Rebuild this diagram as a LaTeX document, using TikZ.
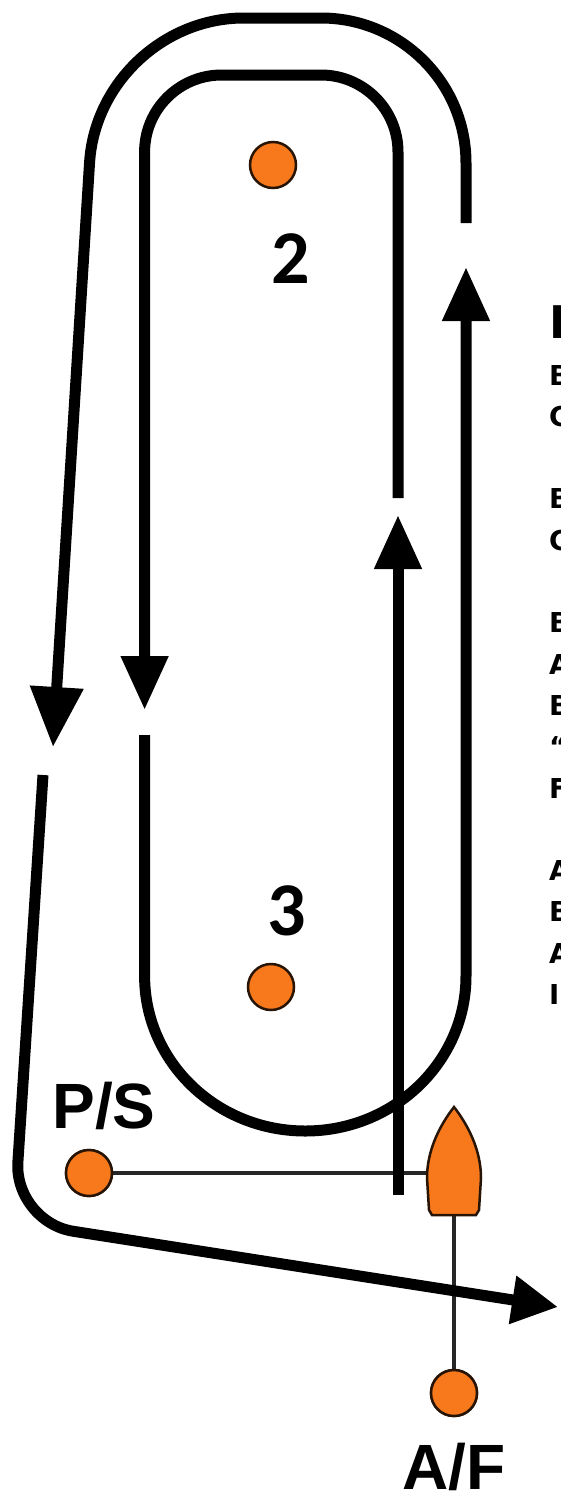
\documentclass[tikz,border=0pt]{standalone}
\usepackage{fontspec}
\setmainfont{Liberation Sans}
\newfontfamily\digitfont{Carlito}
\newfontfamily\sidefont{DejaVu Sans}
\usetikzlibrary{arrows.meta}
\definecolor{buoyorange}{RGB}{247,121,28}
\definecolor{buoyedge}{RGB}{40,20,5}
\begin{document}
\begin{tikzpicture}[x=1pt,y=-1pt,
  course/.style={line width=11pt,draw=black},
  tipA/.style={-{Triangle[width=45pt,length=54pt]}},
  tipB/.style={-{Triangle[width=51pt,length=60pt]}},
  tipC/.style={-{Triangle[width=46pt,length=46pt]}},
  buoy/.style={circle,fill=buoyorange,draw=buoyedge,line width=2.5pt,minimum size=46pt,inner sep=0pt},
  tether/.style={line width=4.5pt,draw=black!85},
  marklabel/.style={font=\bfseries\fontsize{64}{64}\selectfont,anchor=base,inner sep=0pt},
  digitlabel/.style={font=\digitfont\bfseries\fontsize{76}{76}\selectfont,anchor=base,inner sep=0pt},
  sidetext/.style={font=\sidefont\bfseries\fontsize{27.4}{30}\selectfont,anchor=base west,inner sep=0pt},
  sidetitle/.style={font=\sidefont\bfseries\fontsize{45}{48}\selectfont,anchor=base west,inner sep=0pt}]
\fill[white] (0,0) rectangle (560,1492);
\useasboundingbox (0,0) rectangle (560,1492);

% thin tethers
\coordinate (boatL) at (428,1173);
\coordinate (boatB) at (454,1215);
\node[buoy] (ps) at (89,1173) {};
\node[buoy] (af) at (454,1393) {};
\draw[tether] (ps) -- (boatL);
\draw[tether] (boatB) -- (af);

% course
\draw[course,tipA] (398,1195) -- (398,515);
\draw[course,tipA,rounded corners=77pt] (398,498) -- (398,75) -- (144.6,75) -- (144.6,710);
\draw[course,tipA] (144.6,735) -- (144.6,976) .. controls (144.6,1061.6) and (216.4,1131) .. (305.3,1131) .. controls (394.2,1131) and (466,1061.6) .. (466,976) -- (466,267);
\draw[course,tipB,rounded corners=145pt] (466,223) -- (466,18) -- (98.6,18) -- (53,747);
\draw[course,tipC,rounded corners=60pt] (43,775) -- (14,1222) -- (558,1307);

% boat
\filldraw[fill=buoyorange,draw=buoyedge,line width=2.5pt] (454,1107) .. controls (468,1125) and (481,1150) .. (481,1178) -- (479,1210) -- (476,1215) -- (432,1215) -- (429,1210) -- (427,1178) .. controls (427,1150) and (440,1125) .. (454,1107) -- cycle;

% buoys
\node[buoy] (b2) at (273,165) {};
\node[buoy] (b3) at (271,987) {};
\node[buoy] (ps2) at (89,1173) {};
\node[buoy] (af2) at (454,1393) {};

% labels
\node[digitlabel] (l2) at (291,283) {2};
\node[digitlabel] (l3) at (287,935) {3};
\node[marklabel] (pslab) at (104,1128) {P/S};
\node[marklabel] (aflab) at (454,1489) {A/F};

% cut-off text at the right edge
\node[sidetitle] (t) at (549,338) {I};
\node[sidetext] (t0) at (549,385) {B};
\node[sidetext] (t1) at (549,426.3) {C};
\node[sidetext] (t3) at (549,508.9) {B};
\node[sidetext] (t4) at (549,550.2) {C};
\node[sidetext] (t6) at (549,632.8) {B};
\node[sidetext] (t7) at (549,674.1) {A};
\node[sidetext] (t8) at (549,715.4) {B};
\node[sidetext] (t9) at (549,756.7) {“};
\node[sidetext] (t10) at (549,798) {F};
\node[sidetext] (t12) at (549,880.6) {A};
\node[sidetext] (t13) at (549,921.9) {B};
\node[sidetext] (t14) at (549,963.2) {A};
\node[sidetext] (t15) at (549,1004.5) {I};
\end{tikzpicture}
\end{document}
